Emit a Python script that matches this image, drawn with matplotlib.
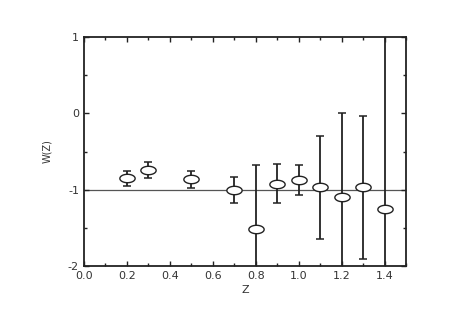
import numpy as np
import matplotlib.pyplot as plt
from matplotlib.path import Path
from matplotlib.ticker import MultipleLocator

z = [0.2, 0.3, 0.5, 0.7, 0.8, 0.9, 1.0, 1.1, 1.2, 1.3, 1.4]
w = [-0.85, -0.74, -0.86, -1.00, -1.52, -0.92, -0.87, -0.97, -1.10, -0.96, -1.25]
w_up = [-0.76, -0.64, -0.75, -0.83, -0.68, -0.66, -0.67, -0.30, 0.00, -0.03, 2.5]
w_lo = [-0.95, -0.85, -0.98, -1.17, -3.0, -1.17, -1.07, -1.65, -3.0, -1.91, -3.0]
xticks = [0.0, 0.2, 0.4, 0.6, 0.8, 1.0, 1.2, 1.4]
yticks = [-2, -1, 0, 1]

w = np.array(w)
err = [w - np.array(w_lo), np.array(w_up) - w]

# flattened open circle, like in the scanned figure
t = np.linspace(0, 2 * np.pi, 60)
ellipse = Path(np.column_stack([np.cos(t), 0.55 * np.sin(t)]), closed=True)

fig = plt.figure(figsize=(4.71, 3.19), dpi=100)
ax = fig.add_axes([0.178, 0.166, 0.684, 0.718])

ax.axhline(-1, color='#555555', lw=0.9, zorder=1)
ax.errorbar(z, w, yerr=err, fmt='none', ecolor='#222222', elinewidth=1.3,
            capsize=3, capthick=1.1, zorder=2)
ax.plot(z, w, linestyle='none', marker=ellipse, markersize=11,
        markerfacecolor='white', markeredgecolor='#222222', markeredgewidth=1.0, zorder=3)

ax.set_xlim(0, 1.5)
ax.set_ylim(-2, 1)
ax.xaxis.set_minor_locator(MultipleLocator(0.1))
ax.yaxis.set_minor_locator(MultipleLocator(0.5))
ax.set_xticks(xticks)
ax.set_xticklabels(['%.1f' % v for v in xticks])
ax.set_yticks(yticks)
ax.set_yticklabels([str(v) for v in yticks])
ax.tick_params(which='both', direction='in', top=True, right=True,
               labelsize=8, labelcolor='#333333', color='#222222')
ax.tick_params(which='major', length=3.5, width=1)
ax.tick_params(which='minor', length=2, width=1)
for s in ax.spines.values():
    s.set_linewidth(1.3)
    s.set_color('#222222')

ax.set_xlabel('Z', fontsize=8, color='#333333', labelpad=3)
ax.set_ylabel('W(Z)', fontsize=7, color='#333333', labelpad=11)

fig.savefig('out.png', dpi=100)
